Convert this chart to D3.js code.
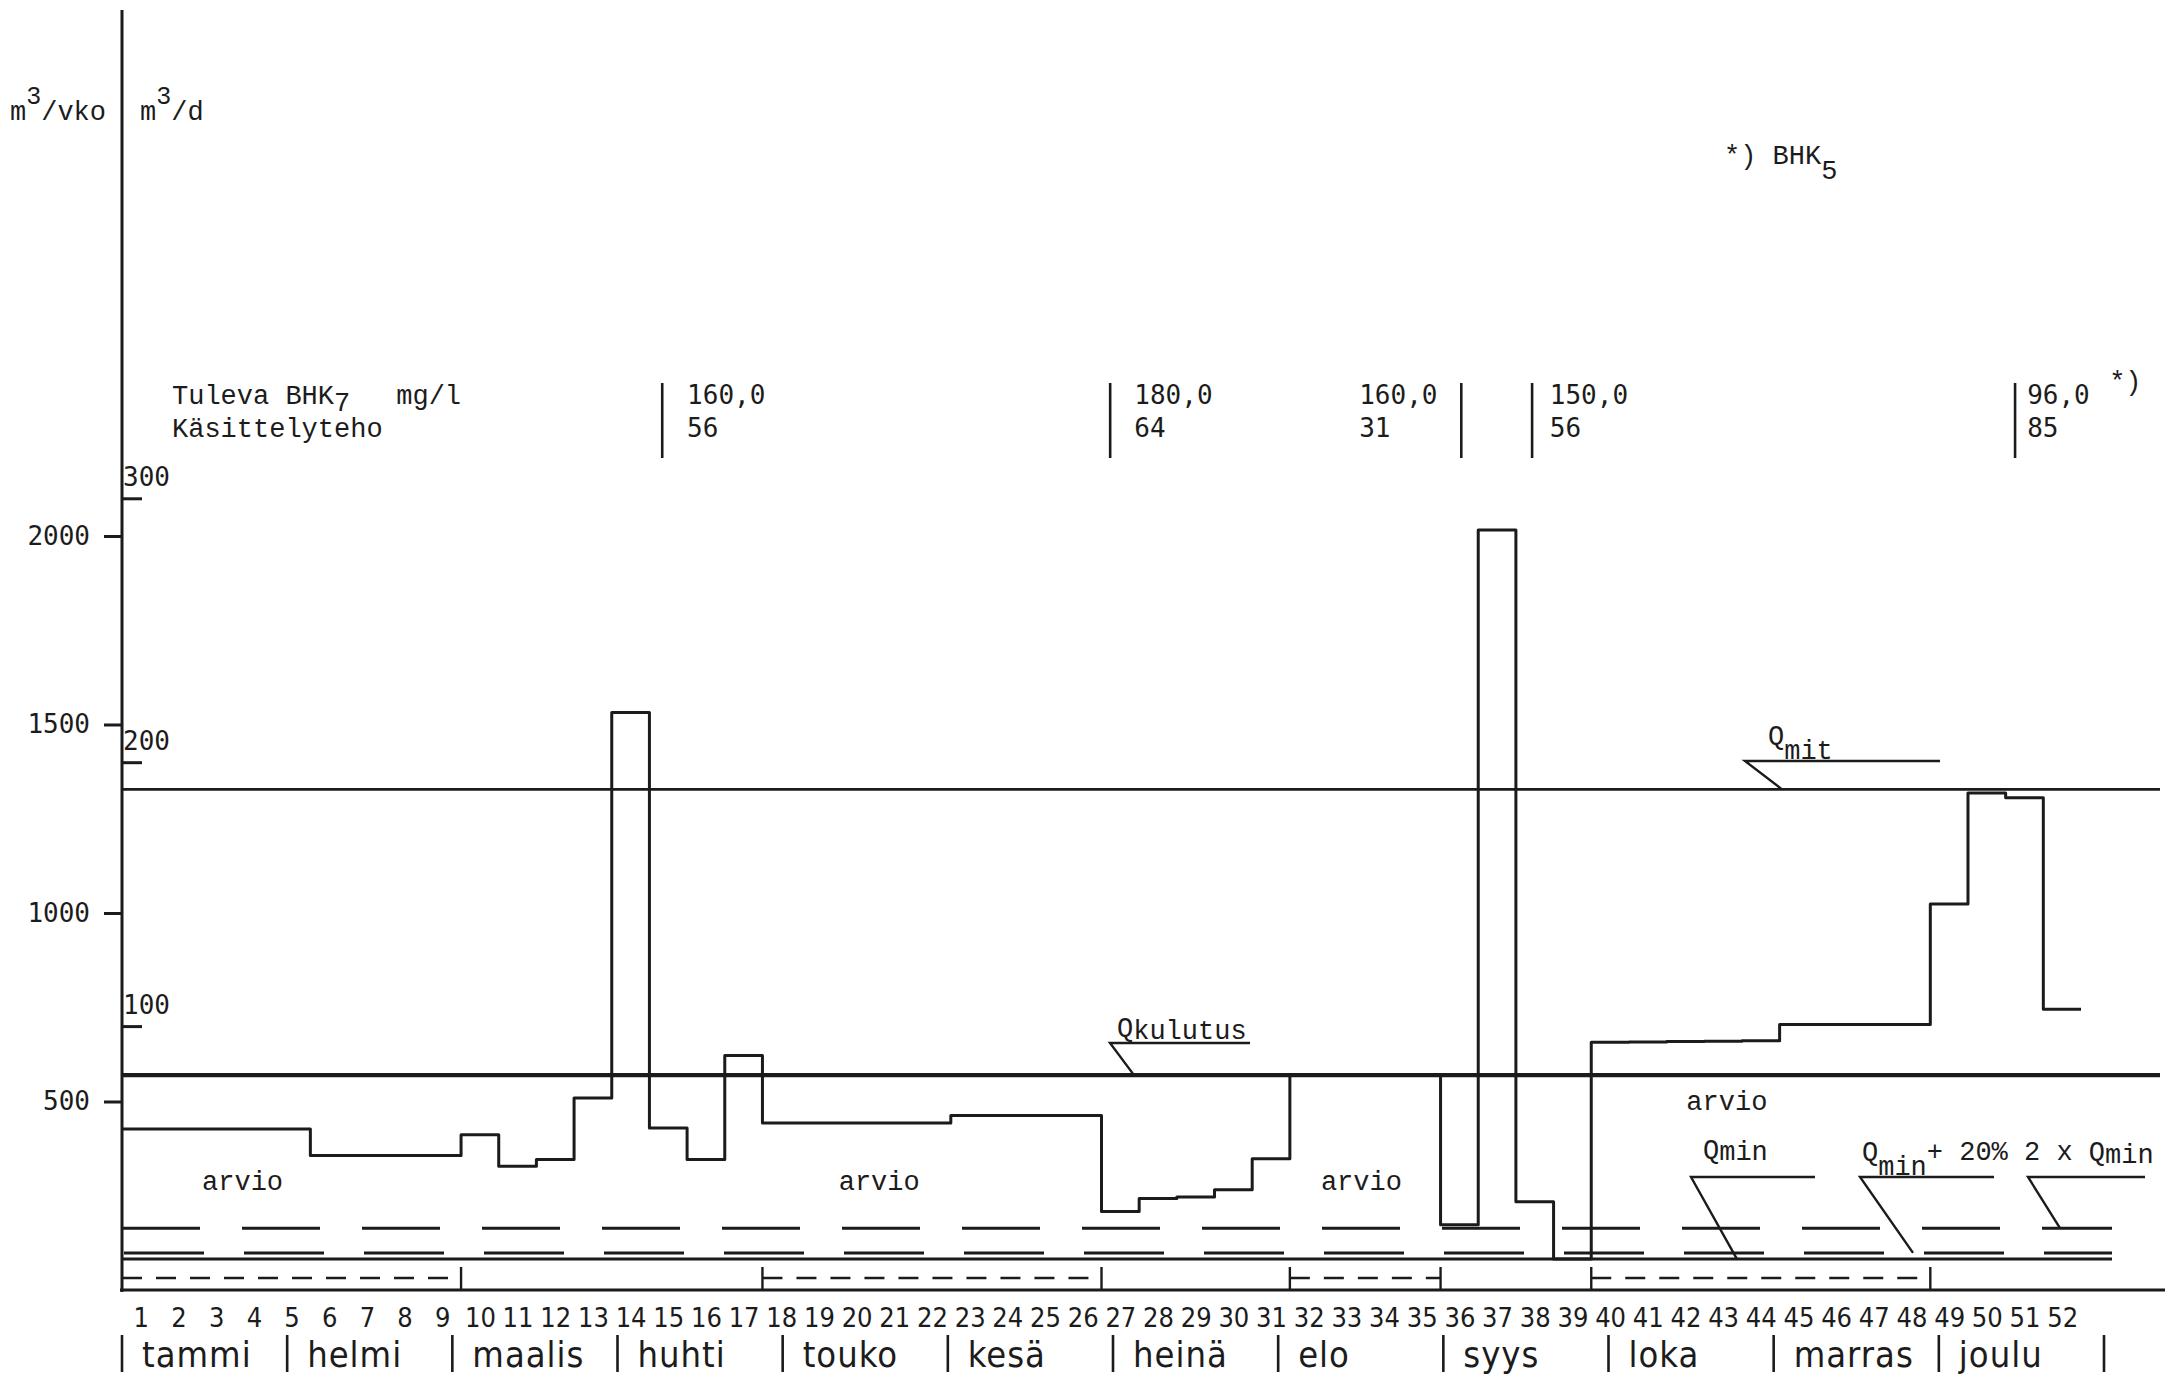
<!DOCTYPE html>
<html>
<head>
<meta charset="utf-8">
<script src="https://cdn.jsdelivr.net/npm/d3@7"></script>
<style>
  html, body { margin: 0; padding: 0; background: #ffffff; }
  svg { display: block; }
  .tw { font-family: "Liberation Mono", "DejaVu Sans Mono", monospace; font-size: 27px; fill: #1c1c1c; white-space: pre; }
  .lg { font-family: "DejaVu Sans Mono", monospace; font-size: 26px; fill: #1c1c1c; }
  .wk { font-family: "Liberation Sans Narrow", "DejaVu Sans Condensed", sans-serif; font-stretch: condensed; font-size: 27px; fill: #1c1c1c; }
  .mo { font-family: "DejaVu Sans Condensed", "DejaVu Sans", sans-serif; font-stretch: condensed; font-size: 36px; fill: #1c1c1c; letter-spacing: 1px; }
</style>
</head>
<body>
<svg id="chart" width="2168" height="1374"></svg>
<script>
// Weekly wastewater flow over one year (m3 per week), weeks 1..52
const weekLabels = ["1","2","3","4","5","6","7","8","9","10","11","12","13","14","15","16","17","18",
  "19","20","21","22","23","24","25","26","27","28","29","30","31","32","33","34","35","36",
  "37","38","39","40","41","42","43","44","45","46","47","48","49","50","51","52"];

const weeklyFlow = [
  427, 427, 427, 427, 427,
  357, 357, 357, 357,
  412, 328, 346, 509, 1532, 430, 346, 622,
  443, 443, 443, 443, 443,
  463, 463, 463, 463,
  208, 243, 247, 266, 348,
  570, 570, 570, 570,
  173, 2016, 234, 82,
  657, 658, 659, 660, 661,
  704, 704, 704, 704,
  1024, 1318, 1306, 745
];

const monthNames = ["tammi", "helmi", "maalis", "huhti", "touko", "kesä",
                    "heinä", "elo", "syys", "loka", "marras", "joulu"];

const weeklyTicks = [500, 1000, 1500, 2000];   // m3/vko
const dailyTicks = [100, 200, 300];            // m3/d

// Reference flows (m3/vko)
const qMit = 1328;
const qKulutus = 570;
const qMin = 82;
const qMinFactors = [1.2, 2];

// Estimated periods (week ranges) and their "arvio" notes
const estimateSpans = [[0, 9], [17, 26], [31, 35], [39, 48]];
const arvioWeeks = [3.2, 20.1, 32.9, 42.6];
const arvioLevels = [265, 265, 265, 478];

// Incoming BOD and treatment efficiency per sampling period
const bhkDividers = [14.34, 26.23, 35.55, 37.43, 50.25];
const bhkWeeks = [15.0, 26.87, 32.84, 37.9, 50.57];
const bhkValues = ["160,0", "180,0", "160,0", "150,0", "96,0"];
const tehoValues = ["56", "64", "31", "56", "85"];

// ------------------------------------------------------------------
const ink = "#1b1b1b";
const svg = d3.select("#chart");

const x = d3.scaleLinear().domain([0, 52]).range([122, 2081]);
const y = d3.scaleLinear().domain([0, 2000]).range([1290, 536]);
const yDaily = d3.scaleLinear().domain([0, 2000 / 7]).range([1290, 536]);
const xMonth = d3.scaleLinear().domain([0, 12]).range([122, 2104]);

function hline(v, x0, x1, width, dash) {
  const l = svg.append("line")
    .attr("x1", x0).attr("x2", x1)
    .attr("y1", y(v)).attr("y2", y(v))
    .attr("stroke", ink).attr("stroke-width", width);
  if (dash) l.attr("stroke-dasharray", dash);
  return l;
}

// Reference levels
hline(qMit, 122, 2160, 2.6);
hline(qKulutus, 122, 2160, 4.2);
hline(qMin, 122, 2112, 3);
hline(qMin * qMinFactors[0], 122, 2112, 3, "80,40").attr("stroke-dashoffset", -2);
hline(qMin * qMinFactors[1], 122, 2112, 3, "78,42");

// Estimated-period brackets just above the base line
const bracketY = 1278;
estimateSpans.forEach(([a, b]) => {
  svg.append("line")
    .attr("x1", x(a)).attr("x2", x(b))
    .attr("y1", bracketY).attr("y2", bracketY)
    .attr("stroke", ink).attr("stroke-width", 2.4)
    .attr("stroke-dasharray", "20,14");
  [a, b].forEach(w => {
    if (w === 0) return;
    svg.append("line")
      .attr("x1", x(w)).attr("x2", x(w))
      .attr("y1", 1267).attr("y2", 1290)
      .attr("stroke", ink).attr("stroke-width", 2.4);
  });
});

// Weekly flow as a step line
const stepPts = weeklyFlow.map((v, i) => [i, v]);
stepPts.push([52, weeklyFlow[weeklyFlow.length - 1]]);
svg.append("path")
  .datum(stepPts)
  .attr("fill", "none")
  .attr("stroke", ink)
  .attr("stroke-width", 3)
  .attr("stroke-linejoin", "round")
  .attr("d", d3.line().x(d => x(d[0])).y(d => y(d[1])).curve(d3.curveStepAfter));

// Axes lines
svg.append("line").attr("x1", 122).attr("x2", 122).attr("y1", 10).attr("y2", 1292)
  .attr("stroke", ink).attr("stroke-width", 3);
svg.append("line").attr("x1", 120).attr("x2", 2165).attr("y1", 1290).attr("y2", 1290)
  .attr("stroke", ink).attr("stroke-width", 3);

// m3/vko axis (outside)
const gL = svg.append("g").attr("transform", "translate(122,0)")
  .call(d3.axisLeft(y).tickValues(weeklyTicks).tickSize(18).tickPadding(14).tickFormat(d3.format("d")));
gL.select(".domain").remove();
gL.selectAll(".tick line").attr("stroke", ink).attr("stroke-width", 3);
gL.selectAll(".tick text").attr("class", "lg");

// m3/d axis (inside)
const gR = svg.append("g").attr("transform", "translate(122,0)")
  .call(d3.axisRight(yDaily).tickValues(dailyTicks).tickSize(20).tickFormat(d3.format("d")));
gR.select(".domain").remove();
gR.selectAll(".tick line").attr("stroke", ink).attr("stroke-width", 3);
gR.selectAll(".tick text").attr("class", "lg").attr("x", 1).attr("y", -13).attr("dy", 0);

// Week numbers
const gW = svg.append("g").attr("transform", "translate(0,1290)")
  .call(d3.axisBottom(x).tickValues(weekLabels.map((_, i) => i + 0.5)).tickSize(0).tickPadding(18)
    .tickFormat((d, i) => weekLabels[i]));
gW.select(".domain").remove();
gW.selectAll(".tick text").attr("class", "wk");

// Month row
d3.range(0, 13).forEach(m => {
  svg.append("line")
    .attr("x1", xMonth(m)).attr("x2", xMonth(m))
    .attr("y1", 1335).attr("y2", 1372)
    .attr("stroke", ink).attr("stroke-width", 2.6);
});
svg.selectAll("text.mo").data(monthNames).enter().append("text")
  .attr("class", "mo")
  .attr("x", (d, i) => xMonth(i) + 20)
  .attr("y", 1367)
  .text(d => d);

// Unit headers
const u1 = svg.append("text").attr("class", "tw").attr("x", 10).attr("y", 120);
u1.append("tspan").text("m");
u1.append("tspan").attr("dy", -16).attr("font-size", 25).text("3");
u1.append("tspan").attr("dy", 16).text("/vko");
const u2 = svg.append("text").attr("class", "tw").attr("x", 140).attr("y", 120);
u2.append("tspan").text("m");
u2.append("tspan").attr("dy", -16).attr("font-size", 25).text("3");
u2.append("tspan").attr("dy", 16).text("/d");

// Footnote
const fn = svg.append("text").attr("class", "tw").attr("x", 1724).attr("y", 164);
fn.append("tspan").text("*) BHK");
fn.append("tspan").attr("dy", 15).text("5");

// BOD table
const h1 = svg.append("text").attr("class", "tw").attr("x", 172).attr("y", 404);
h1.append("tspan").text("Tuleva BHK");
h1.append("tspan").attr("dy", 7).text("7");
h1.append("tspan").attr("dy", -7).attr("dx", 46).text("mg/l");
svg.append("text").attr("class", "tw").attr("x", 172).attr("y", 437).text("Käsittelyteho");

bhkDividers.forEach(w => {
  svg.append("line").attr("x1", x(w)).attr("x2", x(w)).attr("y1", 383).attr("y2", 458)
    .attr("stroke", ink).attr("stroke-width", 2.6);
});
bhkValues.forEach((v, i) => {
  svg.append("text").attr("class", "lg").attr("x", x(bhkWeeks[i])).attr("y", 404).text(v);
  svg.append("text").attr("class", "lg").attr("x", x(bhkWeeks[i])).attr("y", 437).text(tehoValues[i]);
});
svg.append("text").attr("class", "tw").attr("x", x(bhkWeeks[4]) + 82).attr("y", 390).text("*)");

// "arvio" notes
arvioWeeks.forEach((w, i) => {
  svg.append("text").attr("class", "tw").attr("text-anchor", "middle")
    .attr("x", x(w)).attr("y", y(arvioLevels[i])).text("arvio");
});

// Leader-line annotations for the reference levels
function leader(x0, yU, len, xT, yT) {
  svg.append("path")
    .attr("d", `M${x0 + len},${yU}H${x0}L${xT},${yT}`)
    .attr("fill", "none").attr("stroke", ink).attr("stroke-width", 2.4);
}

// Q kulutus
leader(1110, 1043, 140, 1134, y(qKulutus));
const tk = svg.append("text").attr("class", "tw").attr("x", 1117).attr("y", 1036);
tk.append("tspan").text("Q");
tk.append("tspan").attr("dy", 3).text("kulutus");

// Q mit
leader(1745, 761, 195, 1782, y(qMit));
const tm = svg.append("text").attr("class", "tw").attr("x", 1768).attr("y", 744);
tm.append("tspan").text("Q");
tm.append("tspan").attr("dy", 15).text("mit");

// Q min family
const noteY = 1177;
leader(1691, noteY, 124, 1737, y(qMin));
const t1 = svg.append("text").attr("class", "tw").attr("x", 1703).attr("y", 1158);
t1.append("tspan").text("Q");
t1.append("tspan").attr("dy", 2).text("min");

leader(1860, noteY, 134, 1913, y(qMin * qMinFactors[0]));
const t2 = svg.append("text").attr("class", "tw").attr("x", 1862).attr("y", 1160);
t2.append("tspan").text("Q");
t2.append("tspan").attr("dy", 15).text("min");
t2.append("tspan").attr("dy", -15).text("+ 20%");

leader(2028, noteY, 117, 2060, y(qMin * qMinFactors[1]));
const t3 = svg.append("text").attr("class", "tw").attr("x", 2024).attr("y", 1160);
t3.append("tspan").text("2 x Q");
t3.append("tspan").attr("dy", 3).text("min");
</script>
</body>
</html>
